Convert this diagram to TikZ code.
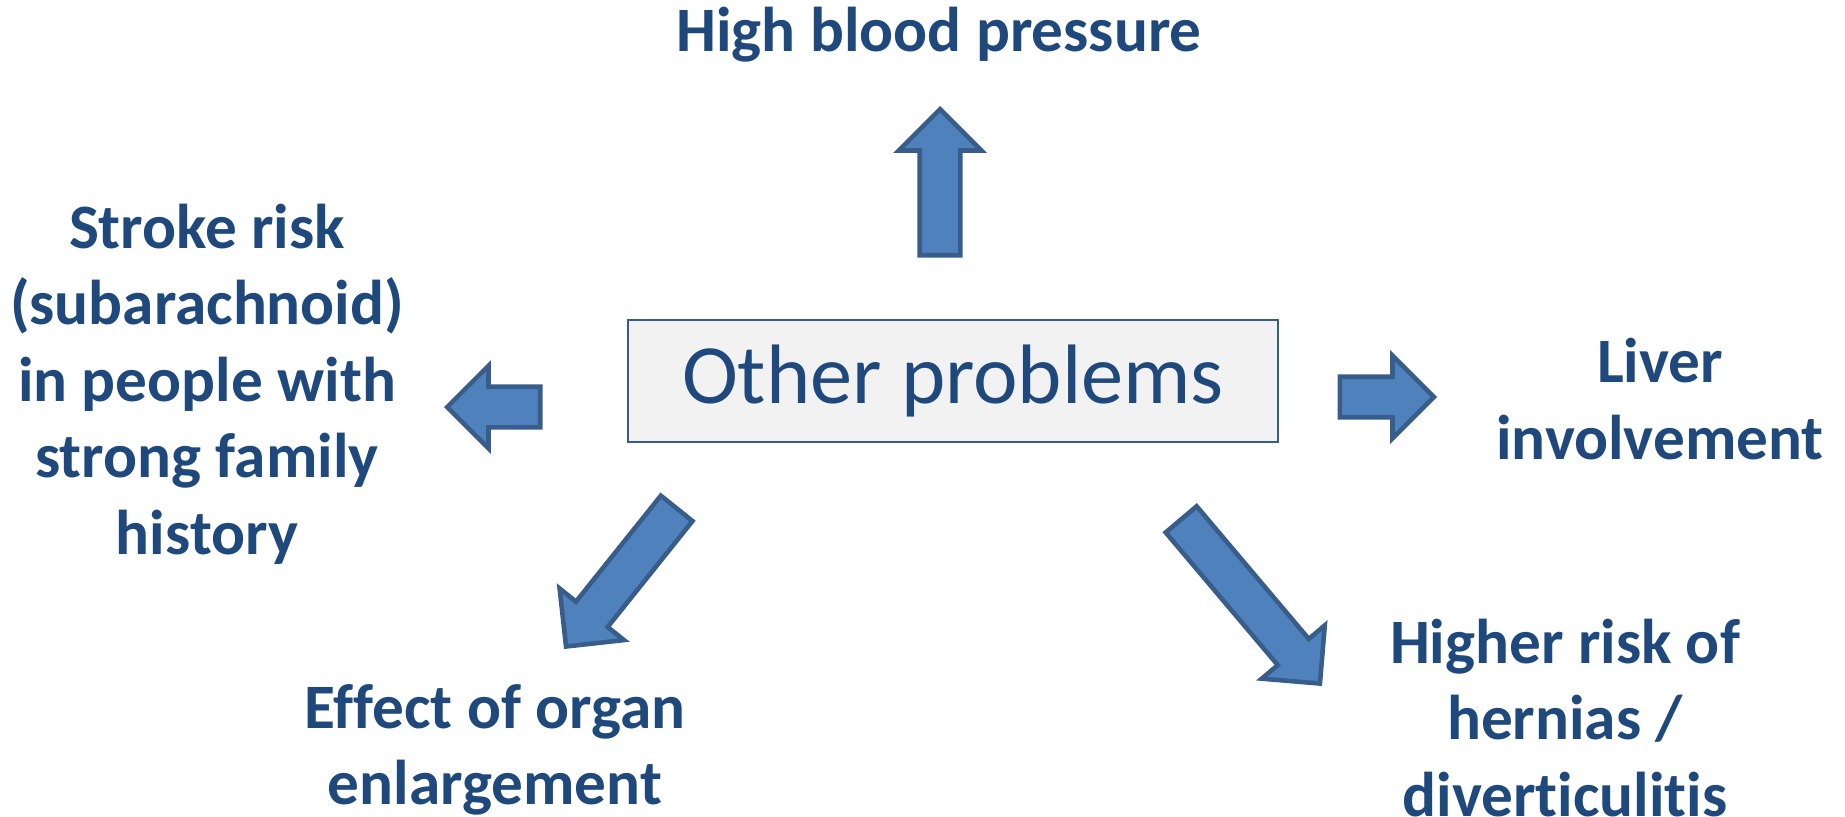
\documentclass[tikz,border=0pt]{standalone}
\usepackage{fontspec}
\setmainfont[Ligatures=NoCommon]{Carlito}
\usepackage{tikz}
\usetikzlibrary{shapes.arrows}
\definecolor{darkblue}{HTML}{1F497D}
\definecolor{arrowblue}{HTML}{4F81BD}
\definecolor{arrowedge}{HTML}{385D8A}
\definecolor{boxgray}{HTML}{F2F2F2}

\begin{document}
\begin{tikzpicture}
\tikzstyle{outcome} = [text=darkblue, font=\fontsize{18}{21.8}\selectfont\bfseries, align=center];
\tikzstyle{bigarrow} = [single arrow, draw=arrowedge, fill=arrowblue, line width=1.3pt, minimum width=0.78cm, single arrow head extend=0.21cm, inner xsep=0pt, inner ysep=0.18cm, anchor=tip];
\tikzstyle{mainbox} = [draw=arrowedge, fill=boxgray, line width=0.6pt, minimum width=6.5cm, minimum height=1.22cm, text=darkblue, font=\fontsize{24}{29}\selectfont];

\useasboundingbox (0,0) rectangle (18.45,-8.16);

\node [mainbox] (other) at (9.53,-3.81) {Other problems};

\node [outcome] (pressure) at (9.39,-0.35) {High blood pressure};
\node [outcome] (stroke) at (2.07,-3.84) {Stroke risk\\(subarachnoid)\\in people with\\strong family\\history};
\node [outcome] (liver) at (16.60,-3.99) {Liver\\involvement};
\node [outcome] (organ) at (4.95,-7.50) {Effect of organ\\enlargement};
\node [outcome] (hernia) at (15.65,-7.18) {Higher risk of\\hernias /\\diverticulitis};

\node [bigarrow, minimum height=1.46cm, rotate=90] (toPressure) at (9.40,-1.06) {};
\node [bigarrow, minimum height=0.93cm, rotate=180] (toStroke) at (4.44,-4.07) {};
\node [bigarrow, minimum height=0.94cm] (toLiver) at (14.37,-3.97) {};
\node [bigarrow, minimum height=1.77cm, rotate=231.3] (toOrgan) at (5.64,-6.49) {};
\node [bigarrow, minimum height=2.15cm, rotate=-49.8] (toHernia) at (13.22,-6.86) {};
\end{tikzpicture}
\end{document}
